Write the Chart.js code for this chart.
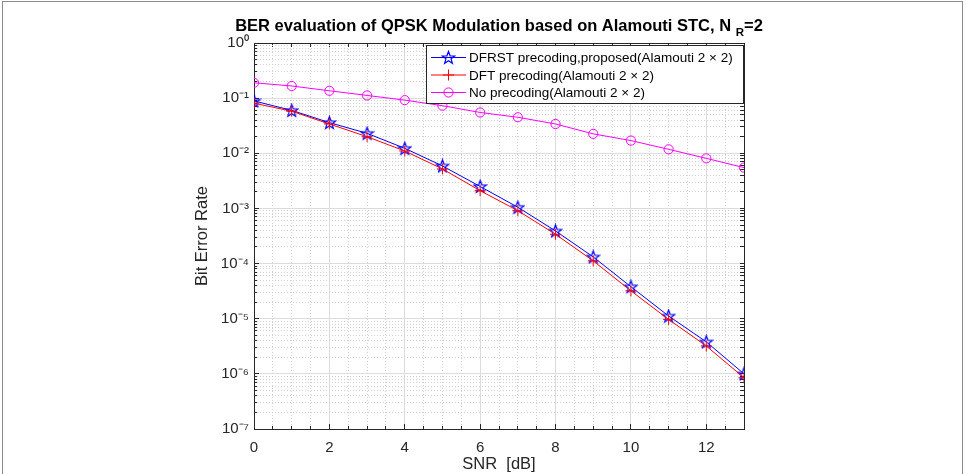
<!DOCTYPE html>
<html>
<head>
<meta charset="utf-8">
<title>BER evaluation</title>
<script src="https://cdn.jsdelivr.net/npm/chart.js@4.4.0/dist/chart.umd.min.js"></script>
<style>
html, body { margin: 0; padding: 0; background: #fff; }
#wrap { width: 966px; height: 474px; }
</style>
</head>
<body>
<div id="wrap"><canvas id="berChart" width="966" height="474"></canvas></div>
<script>
// SNR [dB]
var snr = [0, 1, 2, 3, 4, 5, 6, 7, 8, 9, 10, 11, 12, 13];
// bit error rates
var berDfrst = [0.089, 0.060, 0.036, 0.023, 0.0123, 0.0059, 0.0025, 1.05e-3, 3.9e-4, 1.32e-4, 3.8e-5, 1.12e-5, 3.8e-6, 1.0e-6];
var berDft   = [0.081, 0.058, 0.034, 0.020, 0.011, 0.0052, 0.0021, 9.1e-4, 3.4e-4, 1.12e-4, 3.2e-5, 9.7e-6, 3.2e-6, 8.5e-7];
var berNone  = [0.19, 0.166, 0.136, 0.112, 0.092, 0.073, 0.055, 0.045, 0.034, 0.0225, 0.017, 0.0118, 0.0081, 0.0055];

var seriesNames = [
    'DFRST precoding,proposed(Alamouti 2 \u00d7 2)',
    'DFT precoding(Alamouti 2 \u00d7 2)',
    'No precoding(Alamouti 2 \u00d7 2)'
];
var xTicks = [0, 2, 4, 6, 8, 10, 12];
var xMinorStep = 0.5;
var yDecades = [-7, -6, -5, -4, -3, -2, -1, 0];
var yMinorSteps = [2, 3, 4, 5, 6, 7, 8, 9];

var FONT = '"Liberation Sans", Arial, Helvetica, sans-serif';
var INK = '#262626';
var GRID = '#dcdcdc';
var GRID_MINOR = '#d2d2d2';

var supMap = { '-': '\u207b', '0': '\u2070', '1': '\u00b9', '2': '\u00b2', '3': '\u00b3',
    '4': '\u2074', '5': '\u2075', '6': '\u2076', '7': '\u2077', '8': '\u2078', '9': '\u2079' };
function sup(n) {
    return String(n).split('').map(function (c) { return supMap[c]; }).join('');
}

// tick lists for the minor grid
function xMinorTicks(withMajor) {
    var t = [];
    for (var v = 0; v <= 13; v += xMinorStep) {
        if (withMajor || xTicks.indexOf(v) < 0) t.push({ value: v });
    }
    return t;
}
function yMinorTicks(withMajor) {
    var t = [];
    yDecades.forEach(function (e) {
        if (withMajor) t.push({ value: Math.pow(10, e) });
        if (e < 0) yMinorSteps.forEach(function (m) { t.push({ value: m * Math.pow(10, e) }); });
    });
    return t;
}

// pentagram marker (matlab 'p')
function makeStar(color) {
    var c = document.createElement('canvas');
    c.width = 15; c.height = 15;
    var g = c.getContext('2d');
    g.strokeStyle = color;
    g.lineWidth = 1.2;
    g.beginPath();
    for (var i = 0; i < 10; i++) {
        var r = i % 2 === 0 ? 6.6 : 2.7;
        var a = -Math.PI / 2 + i * Math.PI / 5;
        var px = 7.5 + r * Math.cos(a), py = 8 + r * Math.sin(a);
        if (i === 0) g.moveTo(px, py); else g.lineTo(px, py);
    }
    g.closePath();
    g.stroke();
    return c;
}
var starImg = makeStar('#0000ff');

function toPoints(ys) {
    return snr.map(function (x, i) { return { x: x, y: ys[i] }; });
}

var frame = {
    id: 'frame',
    beforeDraw: function (chart) {
        var ctx = chart.ctx;
        ctx.save();
        ctx.strokeStyle = '#8c8c8c';
        ctx.lineWidth = 1;
        ctx.strokeRect(2.5, 1.5, 960, 520);
        ctx.restore();
    }
};

var matlabTitle = {
    id: 'matlabTitle',
    afterDraw: function (chart) {
        var ctx = chart.ctx, a = chart.chartArea;
        var main = 'BER evaluation of QPSK Modulation based on Alamouti STC, N ';
        var sub = 'R', tail = '=2';
        var big = 'bold 16.5px ' + FONT, small = 'bold 11.5px ' + FONT;
        ctx.save();
        ctx.fillStyle = '#000';
        ctx.textBaseline = 'alphabetic';
        ctx.font = big;
        var w1 = ctx.measureText(main).width, w3 = ctx.measureText(tail).width;
        ctx.font = small;
        var w2 = ctx.measureText(sub).width;
        var x = (a.left + a.right) / 2 - (w1 + w2 + w3) / 2;
        var y = 31;
        ctx.font = big;
        ctx.fillText(main, x, y);
        ctx.font = small;
        ctx.fillText(sub, x + w1, y + 5);
        ctx.font = big;
        ctx.fillText(tail, x + w1 + w2, y);
        ctx.restore();
    }
};

var boxLegend = {
    id: 'boxLegend',
    afterDraw: function (chart) {
        var ctx = chart.ctx, a = chart.chartArea;
        var w = 317, h = 58;
        var left = a.right - w - 1, top = a.top + 2;
        ctx.save();
        ctx.fillStyle = '#fff';
        ctx.fillRect(left, top, w, h);
        ctx.strokeStyle = INK;
        ctx.lineWidth = 1;
        ctx.strokeRect(Math.round(left) + 0.5, Math.round(top) + 0.5, w, h);
        ctx.font = '13.5px ' + FONT;
        ctx.textBaseline = 'middle';
        chart.data.datasets.forEach(function (ds, i) {
            var y = top + 12.5 + i * 17.5;
            ctx.strokeStyle = ds.borderColor;
            ctx.lineWidth = 1;
            ctx.beginPath();
            ctx.moveTo(left + 5, y);
            ctx.lineTo(left + 40, y);
            ctx.stroke();
            ctx.fillStyle = 'rgba(0,0,0,0)';
            Chart.helpers.drawPoint(ctx, {
                pointStyle: ds.pointStyle, radius: ds.pointRadius,
                rotation: 0, borderWidth: ds.pointBorderWidth
            }, left + 22.5, y);
            ctx.fillStyle = '#000';
            ctx.fillText(ds.label, left + 43, y + 1);
        });
        ctx.restore();
    }
};

var ctx1 = document.getElementById('berChart');
var berChart = new Chart(ctx1, {
    type: 'line',
    data: {
        datasets: [{
            label: seriesNames[0],
            data: toPoints(berDfrst),
            borderColor: '#0000ff',
            borderWidth: 1,
            pointStyle: starImg,
            pointRadius: 7,
            pointBorderWidth: 1,
            order: 2
        }, {
            label: seriesNames[1],
            data: toPoints(berDft),
            borderColor: '#ff0000',
            borderWidth: 1,
            pointStyle: 'cross',
            pointRadius: 5.5,
            pointBorderColor: '#ff0000',
            pointBorderWidth: 1,
            order: 1
        }, {
            label: seriesNames[2],
            data: toPoints(berNone),
            borderColor: '#ff00ff',
            borderWidth: 1,
            pointStyle: 'circle',
            pointRadius: 4.6,
            pointBorderColor: '#ff00ff',
            pointBackgroundColor: 'rgba(0,0,0,0)',
            pointBorderWidth: 1,
            order: 3
        }]
    },
    options: {
        responsive: false,
        animation: false,
        devicePixelRatio: 1,
        layout: { padding: { left: 190, right: 222, top: 43, bottom: 0 } },
        plugins: {
            legend: { display: false },
            tooltip: { enabled: false },
            title: { display: false }
        },
        scales: {
            x: {
                type: 'linear',
                position: 'bottom',
                weight: 1,
                min: 0,
                max: 13,
                afterBuildTicks: function (scale) {
                    scale.ticks = xTicks.map(function (v) { return { value: v }; });
                },
                afterFit: function (scale) { scale.height = 45; },
                grid: { color: GRID, drawTicks: true, tickLength: -5, tickColor: INK },
                border: { display: true, color: INK },
                ticks: { color: INK, padding: 15, font: { family: FONT, size: 15 }, autoSkip: false, maxRotation: 0 },
                title: { display: true, text: 'SNR  [dB]', color: INK, font: { family: FONT, size: 16.5 }, padding: { top: 0, bottom: 0 } }
            },
            xMinor: {
                type: 'linear',
                position: 'bottom',
                weight: 0,
                min: 0,
                max: 13,
                afterBuildTicks: function (scale) { scale.ticks = xMinorTicks(false); },
                afterFit: function (scale) { scale.height = 0; },
                grid: { color: GRID_MINOR, drawTicks: true, tickLength: -3, tickColor: INK },
                border: { display: false, dash: [1, 2] },
                ticks: { display: false }
            },
            xTop: {
                type: 'linear',
                position: 'top',
                min: 0,
                max: 13,
                afterBuildTicks: function (scale) { scale.ticks = xMinorTicks(true); },
                afterFit: function (scale) { scale.height = 0; },
                grid: { drawOnChartArea: false, drawTicks: true, tickLength: -4, tickColor: INK },
                border: { display: true, color: INK },
                ticks: { display: false }
            },
            y: {
                type: 'logarithmic',
                position: 'left',
                weight: 1,
                min: 1e-7,
                max: 1,
                afterBuildTicks: function (scale) {
                    scale.ticks = yDecades.map(function (e) { return { value: Math.pow(10, e) }; });
                },
                afterFit: function (scale) { scale.width = 64; },
                grid: { color: GRID, drawTicks: true, tickLength: -5, tickColor: INK },
                border: { display: true, color: INK },
                ticks: {
                    color: INK, padding: 10, autoSkip: false,
                    font: { family: FONT, size: 15 },
                    callback: function (v) { return '10' + sup(Math.round(Math.log10(v))); }
                },
                title: { display: true, text: 'Bit Error Rate', color: INK, font: { family: FONT, size: 16.5 }, padding: { top: 3, bottom: 0 } }
            },
            yMinor: {
                type: 'logarithmic',
                position: 'left',
                weight: 0,
                min: 1e-7,
                max: 1,
                afterBuildTicks: function (scale) { scale.ticks = yMinorTicks(false); },
                afterFit: function (scale) { scale.width = 0; },
                grid: { color: GRID_MINOR, drawTicks: true, tickLength: -3, tickColor: INK },
                border: { display: false, dash: [1, 2] },
                ticks: { display: false }
            },
            yRight: {
                type: 'logarithmic',
                position: 'right',
                min: 1e-7,
                max: 1,
                afterBuildTicks: function (scale) { scale.ticks = yMinorTicks(true); },
                afterFit: function (scale) { scale.width = 0; },
                grid: { drawOnChartArea: false, drawTicks: true, tickLength: -4, tickColor: INK },
                border: { display: true, color: INK },
                ticks: { display: false }
            }
        }
    },
    plugins: [frame, matlabTitle, boxLegend]
});
</script>
</body>
</html>
